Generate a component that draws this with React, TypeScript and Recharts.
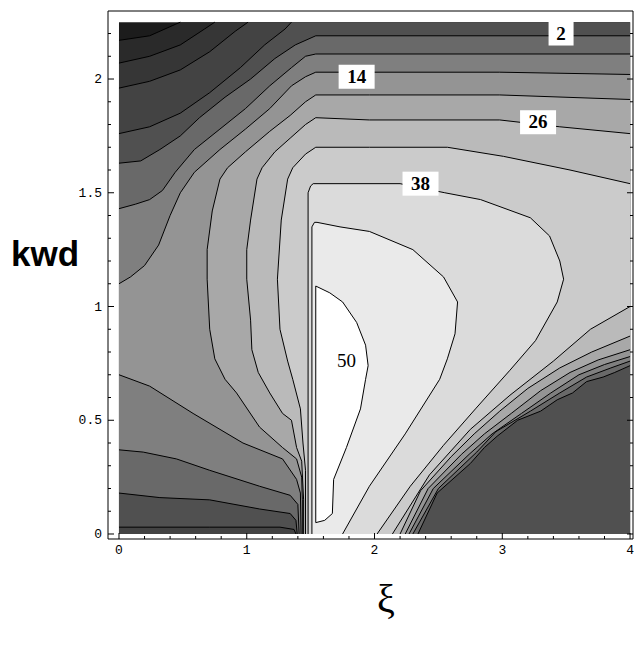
import React from 'react';
import { ComposedChart, Scatter, XAxis, YAxis } from 'recharts';

type Pt = [number, number];

// contour levels, and the gray shown above each one (GRAYS[0] is below the lowest level)
const LEVELS = [-22, -16, -10, -4, 2, 8, 14, 20, 26, 32, 38, 44, 50];
const GRAYS = ['#1c1c1c', '#2a2a2a', '#363636', '#434343', '#505050', '#696969', '#7f7f7f', '#949494', '#a8a8a8', '#bababa', '#cbcbcb', '#dbdbdb', '#eaeaea', '#ffffff'];

// axis ranges (frame) and ticks
const X_MIN = -0.086;
const X_MAX = 4.023;
const Y_MIN = -0.022;
const Y_MAX = 2.299;
const X_TICKS = [0, 0.2, 0.4, 0.6, 0.8, 1, 1.2, 1.4, 1.6, 1.8, 2, 2.2, 2.4, 2.6, 2.8, 3, 3.2, 3.4, 3.6, 3.8, 4];
const X_LABELS = ['0', '1', '2', '3', '4'];
const Y_TICKS = [0, 0.1, 0.2, 0.3, 0.4, 0.5, 0.6, 0.7, 0.8, 0.9, 1, 1.1, 1.2, 1.3, 1.4, 1.5, 1.6, 1.7, 1.8, 1.9, 2, 2.1, 2.2];
const Y_LABELS = ['0', '0.5', '1', '1.5', '2'];

// sampled area of the plot
const DATA_BOX: Pt[] = [[0, 0], [0, 2.25], [4, 2.25], [4, 0]];

// contour lines, as [xi, kwd]
const C_M22: Pt[] = [[0, 2.17], [0.24, 2.19], [0.44, 2.24], [0.48, 2.25]];
const C_M16: Pt[] = [[0, 2.07], [0.24, 2.1], [0.48, 2.15], [0.67, 2.22], [0.75, 2.25]];
const C_M10: Pt[] = [[0, 1.96], [0.24, 1.99], [0.48, 2.04], [0.71, 2.12], [0.91, 2.21], [1.01, 2.25]];
const C_M4_TOP: Pt[] = [[0, 1.76], [0.24, 1.79], [0.48, 1.85], [0.71, 1.94], [0.95, 2.05], [1.14, 2.15], [1.3, 2.22], [1.35, 2.25]];
const C_M4_LOW: Pt[] = [[0, 0.03], [0.71, 0.03], [1.26, 0.03], [1.37, 0.02], [1.385, 0]];

const C_2_TOP: Pt[] = [[0, 1.63], [0.17, 1.64], [0.32, 1.69], [0.48, 1.75], [0.63, 1.83], [0.83, 1.92], [1.03, 2.0], [1.22, 2.09], [1.38, 2.15], [1.54, 2.19], [4, 2.19]];
const C_2_BR: Pt[] = [[4, 0.74], [3.88, 0.71], [3.79, 0.69], [3.66, 0.67], [3.55, 0.62], [3.43, 0.59], [3.3, 0.54], [3.12, 0.5], [2.96, 0.43], [2.86, 0.38], [2.75, 0.31], [2.49, 0.18], [2.34, 0]];
const C_2_LOW: Pt[] = [[0, 0.18], [0.32, 0.16], [0.71, 0.15], [1.1, 0.11], [1.34, 0.09], [1.385, 0.06], [1.395, 0]];

const C_8_TOP: Pt[] = [[0, 1.43], [0.13, 1.45], [0.24, 1.47], [0.34, 1.51], [0.44, 1.59], [0.59, 1.69], [0.79, 1.78], [0.99, 1.87], [1.18, 1.97], [1.35, 2.05], [1.46, 2.1], [1.54, 2.11], [4, 2.11]];
const C_8_BR: Pt[] = [[4, 0.76], [3.85, 0.73], [3.66, 0.69], [3.45, 0.62], [3.22, 0.54], [2.95, 0.45], [2.8, 0.36], [2.5, 0.2], [2.3, 0]];
const C_8_LOW: Pt[] = [[0, 0.37], [0.19, 0.36], [0.45, 0.33], [0.71, 0.28], [1.1, 0.21], [1.34, 0.17], [1.4, 0.13], [1.41, 0]];

const C_14_TOP: Pt[] = [[0, 1.1], [0.09, 1.13], [0.2, 1.18], [0.31, 1.27], [0.4, 1.4], [0.48, 1.5], [0.59, 1.59], [0.79, 1.69], [0.99, 1.78], [1.18, 1.87], [1.35, 1.97], [1.46, 2.01], [1.54, 2.03], [2.98, 2.03], [4, 2.02]];
const C_14_BR: Pt[] = [[4, 0.78], [3.8, 0.745], [3.6, 0.7], [3.38, 0.62], [3.15, 0.53], [2.92, 0.44], [2.74, 0.35], [2.46, 0.2], [2.27, 0]];
const C_14_LOW: Pt[] = [[0, 0.7], [0.24, 0.65], [0.58, 0.53], [0.97, 0.4], [1.28, 0.33], [1.39, 0.24], [1.42, 0.18], [1.425, 0]];

const C_20: Pt[] = [[4, 1.91], [2.98, 1.93], [1.96, 1.93], [1.54, 1.93], [1.46, 1.9], [1.34, 1.84], [1.18, 1.77], [0.99, 1.68], [0.85, 1.61], [0.79, 1.56], [0.73, 1.42], [0.69, 1.25], [0.69, 1.12], [0.71, 0.9], [0.75, 0.77], [0.83, 0.68], [0.92, 0.62], [1.1, 0.47], [1.28, 0.38], [1.39, 0.33], [1.43, 0.25], [1.435, 0.15], [1.435, 0]];
const C_20_BR: Pt[] = [[4, 0.81], [3.75, 0.765], [3.53, 0.71], [3.3, 0.63], [3.07, 0.53], [2.86, 0.44], [2.68, 0.35], [2.42, 0.2], [2.24, 0]];

const C_26: Pt[] = [[4, 1.76], [3.45, 1.79], [2.98, 1.82], [1.96, 1.82], [1.54, 1.83], [1.46, 1.8], [1.34, 1.74], [1.22, 1.68], [1.12, 1.61], [1.08, 1.56], [1.03, 1.38], [1.0, 1.25], [1.0, 1.12], [1.03, 0.94], [1.04, 0.81], [1.09, 0.71], [1.18, 0.62], [1.28, 0.53], [1.35, 0.5], [1.39, 0.38], [1.43, 0.32], [1.445, 0.15], [1.445, 0]];
const C_26_BR: Pt[] = [[4, 0.87], [3.7, 0.8], [3.45, 0.73], [3.2, 0.64], [2.98, 0.54], [2.78, 0.44], [2.6, 0.34], [2.36, 0.19], [2.2, 0]];

const C_32: Pt[] = [[4, 1.54], [3.53, 1.6], [3.01, 1.66], [2.57, 1.7], [1.96, 1.7], [1.54, 1.7], [1.46, 1.67], [1.36, 1.61], [1.32, 1.56], [1.27, 1.38], [1.24, 1.12], [1.26, 0.9], [1.32, 0.76], [1.36, 0.68], [1.42, 0.55], [1.44, 0.4], [1.46, 0.28], [1.46, 0]];
const C_32_BR: Pt[] = [[4, 1.0], [3.69, 0.9], [3.4, 0.76], [3.06, 0.61], [2.75, 0.46], [2.43, 0.26], [2.14, 0]];

const C_38: Pt[] = [[1.48, 0], [1.48, 1.5], [1.5, 1.53], [1.52, 1.54], [2.2, 1.54], [2.55, 1.5], [2.83, 1.47], [3.22, 1.39], [3.37, 1.31], [3.45, 1.2], [3.48, 1.12], [3.43, 1.02], [3.26, 0.85], [3.06, 0.72], [2.79, 0.55], [2.54, 0.39], [2.28, 0.21], [2.02, 0]];
const C_44: Pt[] = [[1.51, 0], [1.51, 1.35], [1.53, 1.37], [1.55, 1.37], [1.73, 1.35], [1.96, 1.33], [2.3, 1.25], [2.54, 1.13], [2.65, 1.02], [2.63, 0.88], [2.57, 0.77], [2.51, 0.68], [2.24, 0.44], [1.96, 0.21], [1.75, 0]];
const C_50: Pt[] = [[1.54, 1.09], [1.65, 1.06], [1.75, 1.02], [1.86, 0.93], [1.93, 0.83], [1.95, 0.74], [1.93, 0.68], [1.89, 0.55], [1.78, 0.38], [1.68, 0.24], [1.67, 0.09], [1.61, 0.06], [1.54, 0.05], [1.54, 1.09]];

const CONTOUR_LABELS = [
  { x: 3.46, y: 2.2, text: '2', box: true },
  { x: 1.86, y: 2.01, text: '14', box: true },
  { x: 3.28, y: 1.81, text: '26', box: true },
  { x: 2.36, y: 1.54, text: '38', box: true },
  { x: 1.78, y: 0.76, text: '50', box: false },
];

const rev = (a: Pt[]) => [...a].reverse();

// region above each level, built from the lines and the edges of the box
const REGIONS: Pt[][] = [
  [...C_M22, [4, 2.25], [4, 0], [0, 0]],
  [...C_M16, [4, 2.25], [4, 0], [0, 0]],
  [...C_M10, [4, 2.25], [4, 0], [0, 0]],
  [...C_M4_TOP, [4, 2.25], [4, 0], ...rev(C_M4_LOW)],
  [...C_2_TOP, ...C_2_BR, ...rev(C_2_LOW)],
  [...C_8_TOP, ...C_8_BR, ...rev(C_8_LOW)],
  [...C_14_TOP, ...C_14_BR, ...rev(C_14_LOW)],
  [...C_20, ...rev(C_20_BR)],
  [...C_26, ...rev(C_26_BR)],
  [...C_32, ...rev(C_32_BR)],
  C_38,
  C_44,
  C_50,
];

const LINES: Pt[][] = [
  C_M22, C_M16, C_M10, C_M4_TOP, C_M4_LOW,
  C_2_TOP, C_2_BR, C_2_LOW, C_8_TOP, C_8_BR, C_8_LOW,
  C_14_TOP, C_14_BR, C_14_LOW, C_20, C_20_BR, C_26, C_26_BR,
  C_32, C_32_BR, C_38, C_44, C_50,
];

const toXY = (pts: Pt[]) => pts.map(([x, y]) => ({ x, y }));

const toPath = (points: { x: number; y: number }[], closed: boolean) =>
  points.map((p, i) => `${i ? 'L' : 'M'}${p.x},${p.y}`).join('') + (closed ? 'Z' : '');

const noDot = () => <g />;

const MONO = '"Liberation Mono", "DejaVu Sans Mono", monospace';
const SERIF = '"Liberation Serif", "DejaVu Serif", serif';

const BottomTick = ({ x, y, payload }: any) => {
  const label = X_LABELS.includes(String(payload.value)) ? String(payload.value) : null;
  return (
    <g>
      <line x1={x} y1={y} x2={x} y2={y - (label ? 6 : 3)} stroke="#000" />
      {label && (
        <text x={x} y={y + 15} textAnchor="middle" fontFamily={MONO} fontSize={13} fill="#000">
          {label}
        </text>
      )}
    </g>
  );
};

const TopTick = ({ x, y, payload }: any) => {
  const major = X_LABELS.includes(String(payload.value));
  return <line x1={x} y1={y} x2={x} y2={y + (major ? 6 : 3)} stroke="#000" />;
};

const LeftTick = ({ x, y, payload }: any) => {
  const label = Y_LABELS.includes(String(payload.value)) ? String(payload.value) : null;
  return (
    <g>
      <line x1={x} y1={y} x2={x + (label ? 6 : 3)} y2={y} stroke="#000" />
      {label && (
        <text x={x - 6} y={y + 4} textAnchor="end" fontFamily={MONO} fontSize={13} fill="#000">
          {label}
        </text>
      )}
    </g>
  );
};

const RightTick = ({ x, y, payload }: any) => {
  const major = Y_LABELS.includes(String(payload.value));
  return <line x1={x} y1={y} x2={x - (major ? 6 : 3)} y2={y} stroke="#000" />;
};

const LabelShape = (props: any) => {
  const { cx, cy, payload } = props;
  const w = 14 + 11 * payload.text.length;
  return (
    <g>
      {payload.box && <rect x={cx - w / 2} y={cy - 12} width={w} height={24} fill="#fff" />}
      <text x={cx} y={cy + 6} textAnchor="middle" fontFamily={SERIF} fontWeight={payload.box ? 'bold' : 'normal'} fontSize={19} fill="#000">
        {payload.text}
      </text>
    </g>
  );
};

export default function App() {
  return (
    <div style={{ position: 'absolute', left: 0, top: 0, width: 634, height: 646, background: '#fff' }}>
      <ComposedChart width={634} height={646} margin={{ top: 10, right: 0, bottom: 0, left: 0 }}>
        <XAxis
          dataKey="x"
          type="number"
          domain={[X_MIN, X_MAX]}
          allowDataOverflow
          ticks={X_TICKS}
          interval={0}
          height={107}
          tickLine={false}
          tickSize={0}
          tickMargin={0}
          axisLine={{ stroke: '#000' }}
          tick={(p: any) => <BottomTick {...p} />}
        />
        <XAxis
          xAxisId="top"
          orientation="top"
          type="number"
          domain={[X_MIN, X_MAX]}
          allowDataOverflow
          ticks={X_TICKS}
          interval={0}
          height={1}
          tickLine={false}
          tickSize={0}
          tickMargin={0}
          axisLine={{ stroke: '#000' }}
          tick={(p: any) => <TopTick {...p} />}
        />
        <YAxis
          dataKey="y"
          type="number"
          domain={[Y_MIN, Y_MAX]}
          allowDataOverflow
          ticks={Y_TICKS}
          interval={0}
          width={108}
          tickLine={false}
          tickSize={0}
          tickMargin={0}
          axisLine={{ stroke: '#000' }}
          tick={(p: any) => <LeftTick {...p} />}
        />
        <YAxis
          yAxisId="right"
          orientation="right"
          type="number"
          domain={[Y_MIN, Y_MAX]}
          allowDataOverflow
          ticks={Y_TICKS}
          interval={0}
          width={1}
          tickLine={false}
          tickSize={0}
          tickMargin={0}
          axisLine={{ stroke: '#000' }}
          tick={(p: any) => <RightTick {...p} />}
        />

        <Scatter
          data={toXY(DATA_BOX)}
          shape={noDot}
          isAnimationActive={false}
          line={(p: any) => <path d={toPath(p.points, true)} fill={GRAYS[0]} stroke="none" />}
        />
        {REGIONS.map((poly, i) => (
          <Scatter
            key={`band-${LEVELS[i]}`}
            data={toXY(poly)}
            shape={noDot}
            isAnimationActive={false}
            line={(p: any) => <path d={toPath(p.points, true)} fill={GRAYS[i + 1]} stroke="none" />}
          />
        ))}
        {LINES.map((pts, i) => (
          <Scatter
            key={`line-${i}`}
            data={toXY(pts)}
            shape={noDot}
            isAnimationActive={false}
            line={(p: any) => <path d={toPath(p.points, false)} fill="none" stroke="#000" strokeWidth={1} />}
          />
        ))}
        <Scatter data={CONTOUR_LABELS} shape={(p: any) => <LabelShape {...p} />} isAnimationActive={false} />
      </ComposedChart>
      <svg width={634} height={646} style={{ position: 'absolute', left: 0, top: 0, pointerEvents: 'none' }}>
        <text x={11} y={266} fontFamily='"Liberation Sans", Arial, sans-serif' fontWeight="bold" fontSize={35} fill="#000">
          kwd
        </text>
        <text x={386} y={612} textAnchor="middle" fontFamily={SERIF} fontSize={40} fill="#000">
          ξ
        </text>
      </svg>
    </div>
  );
}
